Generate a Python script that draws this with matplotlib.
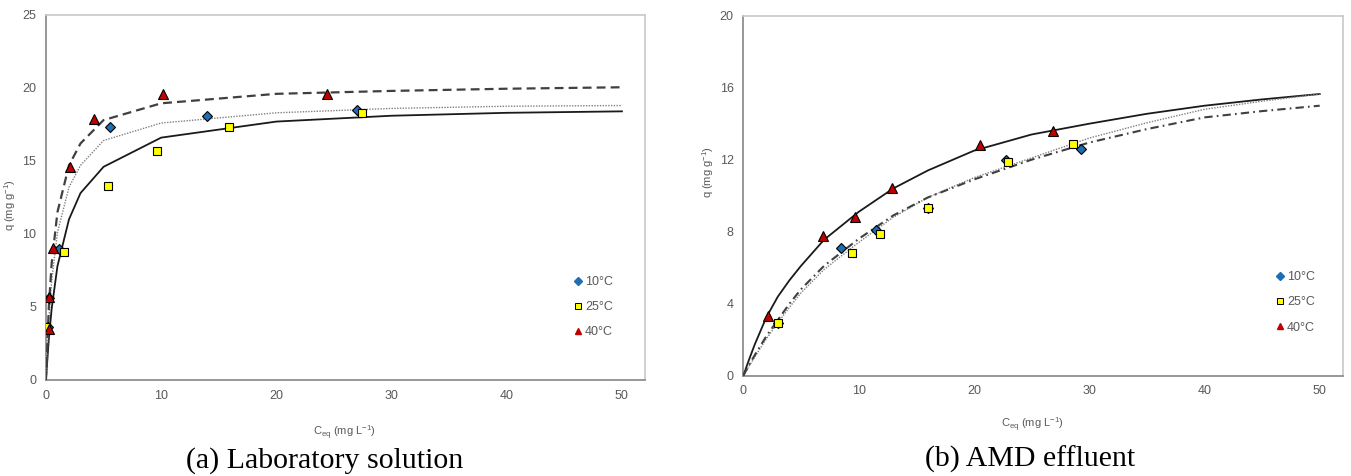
import matplotlib
matplotlib.use("Agg")
import matplotlib.pyplot as plt
from matplotlib.lines import Line2D

plt.rcParams['font.family'] = ['Liberation Sans', 'DejaVu Sans']
plt.rcParams['mathtext.fontset'] = 'custom'
plt.rcParams['mathtext.rm'] = 'Liberation Sans'
plt.rcParams['mathtext.it'] = 'Liberation Sans:italic'

# ---- (a) laboratory solution: measured points ----
a_x10 = [0.15, 0.3, 1.13, 5.6, 14.0, 27.0]
a_y10 = [3.6, 5.6, 8.97, 17.3, 18.1, 18.5]
a_x25 = [0.0, 1.56, 5.4, 9.6, 15.9, 27.4]
a_y25 = [3.65, 8.75, 13.3, 15.7, 17.3, 18.3]
a_x40 = [0.23, 0.26, 0.58, 2.08, 4.2, 10.2, 24.4]
a_y40 = [3.47, 5.66, 9.06, 14.6, 17.9, 19.6, 19.6]

# ---- (a) model curves ----
a_cx = [0, 0.25, 0.5, 1, 2, 3, 5, 10, 20, 30, 40, 50]
a_solid = [0, 2.8, 4.9, 7.8, 11.0, 12.8, 14.6, 16.6, 17.7, 18.1, 18.3, 18.4]
a_dotted = [0, 4.1, 6.8, 10.1, 13.2, 14.7, 16.4, 17.6, 18.3, 18.6, 18.75, 18.8]
a_dashed = [0, 5.0, 8.0, 11.5, 14.7, 16.2, 17.8, 18.95, 19.6, 19.8, 19.95, 20.05]

# ---- (b) AMD effluent: measured points ----
b_x10 = [3.0, 8.5, 11.5, 16.0, 22.8, 29.3]
b_y10 = [2.95, 7.1, 8.1, 9.3, 12.0, 12.6]
b_x25 = [3.0, 9.4, 11.9, 16.0, 23.0, 28.6]
b_y25 = [2.95, 6.8, 7.87, 9.3, 11.9, 12.87]
b_x40 = [2.1, 6.9, 9.7, 12.9, 20.5, 26.9]
b_y40 = [3.3, 7.75, 8.8, 10.45, 12.8, 13.6]

# ---- (b) model curves ----
b_cx = [0, 0.5, 1, 2, 3, 4, 5, 7, 10, 13, 16, 20, 25, 30, 35, 40, 45, 50]
b_solid = [0, 0.9, 1.75, 3.25, 4.4, 5.3, 6.1, 7.55, 9.1, 10.4, 11.4, 12.5, 13.4, 14.0, 14.55, 15.0, 15.35, 15.65]
b_dotted = [0, 0.52, 1.05, 2.05, 2.95, 3.8, 4.6, 5.9, 7.4, 8.8, 9.9, 11.0, 12.1, 13.2, 14.05, 14.8, 15.25, 15.65]
b_dashdot = [0, 0.6, 1.15, 2.2, 3.1, 4.0, 4.8, 6.1, 7.6, 8.9, 9.9, 10.9, 12.0, 12.95, 13.7, 14.35, 14.7, 15.0]

labels = ["10°C", "25°C", "40°C"]
BLUE = "#1f6db3"
YEL = "#ffff00"
RED = "#c00000"
GRAY_TXT = "#595959"


def style_axes(ax, ymax, ystep):
    ax.set_xlim(0, 52)
    ax.set_ylim(0, ymax)
    ax.set_xticks(range(0, 51, 10))
    ax.set_yticks(range(0, ymax + 1, ystep))
    ax.tick_params(length=0, labelsize=9, colors=GRAY_TXT, pad=7)
    for s in ["left", "bottom"]:
        ax.spines[s].set_color("#868686")
        ax.spines[s].set_linewidth(1.2)
    for s in ["top", "right"]:
        ax.spines[s].set_color("#c8c8c8")
        ax.spines[s].set_linewidth(1.2)


def draw_points(ax, xs, ys):
    kw = dict(linestyle="none", markeredgecolor="black", markeredgewidth=0.8, zorder=5)
    ax.plot(xs[0], ys[0], marker="D", ms=5.5, color=BLUE, **kw)
    ax.plot(xs[1], ys[1], marker="s", ms=5.5, color=YEL, **kw)
    ax.plot(xs[2], ys[2], marker="^", ms=6.5, color=RED, **kw)


def add_legend(ax, anchor):
    handles = [
        Line2D([], [], linestyle="none", marker="D", ms=4, color=BLUE, markeredgecolor=BLUE),
        Line2D([], [], linestyle="none", marker="s", ms=4.5, color=YEL, markeredgecolor="black", markeredgewidth=0.7),
        Line2D([], [], linestyle="none", marker="^", ms=5, color=RED, markeredgecolor=RED),
    ]
    leg = ax.legend(handles, labels, loc="upper left", bbox_to_anchor=anchor, frameon=False,
                    fontsize=9, handlelength=0.6, handletextpad=0.25, labelspacing=1.05,
                    borderaxespad=0, borderpad=0)
    for t in leg.get_texts():
        t.set_color(GRAY_TXT)


fig = plt.figure(figsize=(13.51, 4.76), dpi=100)
ax1 = fig.add_axes([0.0340, 0.2017, 0.4434, 0.7668])
ax2 = fig.add_axes([0.5502, 0.2107, 0.4437, 0.7563])

# panel (a)
ax1.plot(a_cx, a_solid, color="#1a1a1a", lw=1.3, zorder=3)
ax1.plot(a_cx, a_dotted, color="#808080", lw=1.0, dashes=(1, 1), zorder=3)
ax1.plot(a_cx, a_dashed, color="#404040", lw=1.6, dashes=(4, 2.3), zorder=3)
draw_points(ax1, [a_x10, a_x25, a_x40], [a_y10, a_y25, a_y40])
style_axes(ax1, 25, 5)
add_legend(ax1, (0.882, 0.285))

# panel (b)
ax2.plot(b_cx, b_solid, color="#1a1a1a", lw=1.3, zorder=3)
ax2.plot(b_cx, b_dotted, color="#808080", lw=1.0, dashes=(1, 1), zorder=3)
ax2.plot(b_cx, b_dashdot, color="#404040", lw=1.5, dashes=(4, 2, 0.8, 2), zorder=3)
draw_points(ax2, [b_x10, b_x25, b_x40], [b_y10, b_y25, b_y40])
style_axes(ax2, 20, 4)
add_legend(ax2, (0.889, 0.29))

# axis titles and captions
ylab = r"q (mg g$^{-1}$)"
xlab = r"C$_{\rm eq}$ (mg L$^{-1}$)"
fig.text(10 / 1351, 1 - 205 / 476, ylab, rotation=90, ha="center", va="center", fontsize=8, color=GRAY_TXT)
fig.text(708 / 1351, 1 - 172 / 476, ylab, rotation=90, ha="center", va="center", fontsize=8, color=GRAY_TXT)
fig.text(344 / 1351, 1 - 433 / 476, xlab, ha="center", va="center", fontsize=8, color=GRAY_TXT)
fig.text(1032 / 1351, 1 - 425 / 476, xlab, ha="center", va="center", fontsize=8, color=GRAY_TXT)
fig.text(325 / 1351, 1 - 461 / 476, "(a) Laboratory solution", ha="center", va="center",
         fontsize=21.5, family=["Liberation Serif"])
fig.text(1030 / 1351, 1 - 459 / 476, "(b) AMD effluent", ha="center", va="center",
         fontsize=21.5, family=["Liberation Serif"])

fig.savefig("out.png", dpi=100)
